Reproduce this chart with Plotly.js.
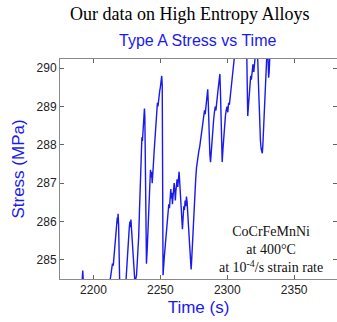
<!DOCTYPE html>
<html>
<head>
<meta charset="utf-8">
<script src="https://cdn.plot.ly/plotly-3.0.1.min.js"></script>
<style>html,body{margin:0;padding:0;background:#fff;}#chart{width:337px;height:322px;}</style>
</head>
<body>
<div id="chart"></div>
<script>
var time = [2185,2189,2191.5,2192,2192.4,2196,2202,2208,2212,2212.8,2213.5,2214.2,2214.8,2215.5,2216,2216.6,2217,2217.4,2217.8,2218.1,2218.4,2218.8,2219.2,2219.6,2221,2223,2224.3,2225,2225.6,2226.2,2226.7,2227.2,2227.6,2228,2228.5,2229,2229.5,2230,2230.6,2231,2232.2,2233,2233.8,2234.5,2235.2,2235.7,2236.2,2236.6,2237,2237.4,2237.8,2238.1,2238.4,2238.7,2239,2239.3,2239.6,2240.2,2240.8,2241.3,2241.8,2242.2,2242.6,2243,2243.5,2243.9,2244.4,2244.8,2245.3,2245.8,2246.3,2246.8,2247.3,2247.8,2248.2,2248.6,2249,2249.5,2250,2250.5,2251,2251.4,2251.7,2252,2252.4,2253,2253.5,2254,2254.6,2255.2,2255.8,2256.3,2256.8,2257.3,2257.8,2258.2,2258.6,2259,2259.4,2259.8,2260.3,2260.8,2261.2,2261.6,2262,2262.5,2263,2263.5,2264,2264.5,2265,2265.5,2266,2266.5,2267,2267.5,2268,2268.5,2269,2269.5,2270,2270.5,2271,2271.5,2272,2272.5,2273,2273.4,2274,2274.6,2275.2,2275.8,2276.4,2277,2277.6,2278.2,2278.8,2279.4,2280,2280.6,2281.2,2281.8,2282.4,2283,2283.5,2284,2284.5,2285,2285.4,2285.8,2286.2,2286.6,2287,2287.5,2288,2288.6,2289.2,2289.8,2290.4,2291,2291.5,2292,2292.5,2293,2293.5,2294,2294.5,2294.9,2295.3,2295.8,2296.2,2296.8,2297.4,2298,2298.6,2299.2,2299.8,2300.4,2301,2301.6,2302.2,2302.8,2303.4,2304,2304.6,2305.2,2306,2308,2311,2314,2314.6,2315,2315.3,2315.8,2316.4,2317,2317.5,2318,2318.6,2319.2,2319.8,2320.4,2321,2322,2322.8,2323.3,2323.8,2324.3,2324.8,2325.3,2325.8,2326.2,2326.6,2327,2327.5,2328,2328.5,2329,2329.5,2330,2330.5,2330.9,2331.3,2331.8,2332.3];
var stress = [284.30,284.38,284.42,284.72,284.45,284.35,284.28,284.33,284.40,284.55,284.78,284.90,284.85,285.15,285.30,285.55,285.70,285.85,286.10,285.95,286.20,285.90,285.20,284.40,284.30,284.35,284.45,284.95,285.30,285.60,285.80,286.00,285.85,286.05,285.80,285.60,285.30,284.90,284.55,284.40,284.60,285.00,285.60,286.40,287.30,287.90,288.20,288.10,288.40,288.30,288.70,288.95,288.75,288.00,286.60,285.40,284.90,285.30,285.80,286.20,286.60,287.00,287.35,287.15,287.30,287.00,287.20,287.50,287.80,288.10,288.40,288.70,288.85,289.10,289.00,289.20,289.15,289.40,289.50,289.65,289.80,289.55,288.00,284.60,284.80,285.10,285.30,285.50,285.80,286.00,286.25,286.45,286.35,286.70,286.85,286.60,286.75,286.45,286.70,286.85,287.00,286.80,286.55,286.80,287.00,287.10,286.90,287.15,287.30,287.00,286.60,286.30,285.90,285.80,286.10,286.40,286.30,286.55,286.40,286.65,286.50,286.30,285.90,285.60,285.20,284.90,284.75,285.00,285.50,285.90,286.30,286.70,287.10,287.40,287.60,287.75,287.85,287.95,288.10,288.30,288.50,288.65,288.80,288.90,288.80,289.00,289.15,289.30,289.45,289.10,288.50,288.00,287.75,287.55,287.85,288.20,288.45,288.65,288.85,289.00,288.90,289.15,289.25,289.40,289.55,289.65,289.85,289.40,288.60,287.90,287.55,287.90,288.30,288.60,288.75,288.90,289.00,288.85,289.10,289.05,289.30,289.45,289.65,289.85,290.05,290.25,290.50,290.70,290.80,290.60,290.30,289.40,288.75,289.00,289.30,289.60,289.80,289.70,289.95,290.10,289.90,290.15,290.35,290.40,290.20,289.60,288.90,288.40,288.10,287.90,287.85,287.78,288.00,288.40,288.90,289.30,289.60,289.90,290.30,290.50,290.20,289.75,289.90,290.30,290.60];
var xTicks = [2200, 2250, 2300, 2350];
var yTicks = [285, 286, 287, 288, 289, 290];

var trace = {x: time, y: stress, type: 'scatter', mode: 'lines',
  line: {color: '#1a1aee', width: 1.4}, hoverinfo: 'none'};

var axisCommon = {showgrid: false, zeroline: false, showline: true, linecolor: '#8a8a8a', linewidth: 1,
  mirror: 'ticks', ticks: 'inside', ticklen: 4, tickcolor: '#666',
  tickfont: {family: 'Liberation Sans, Arial, sans-serif', size: 12, color: '#222'}};

var layout = {
  width: 337, height: 322,
  margin: {l: 60, r: 0, t: 59, b: 43},
  paper_bgcolor: '#fff', plot_bgcolor: '#fff',
  showlegend: false,
  xaxis: Object.assign({}, axisCommon, {range: [2175, 2382], tickvals: xTicks,
    title: {text: 'Time (s)', standoff: 4, font: {family: 'Liberation Sans, Arial, sans-serif', size: 17, color: '#1a1aee'}}}),
  yaxis: Object.assign({}, axisCommon, {range: [284.5, 290.24], tickvals: yTicks,
    title: {text: 'Stress (MPa)', standoff: 7, font: {family: 'Liberation Sans, Arial, sans-serif', size: 17, color: '#1a1aee'}}}),
  annotations: [
    {xref: 'paper', yref: 'paper', x: 0.466, y: 1.2045, xanchor: 'center', yanchor: 'middle', showarrow: false,
     text: 'Our data on High Entropy Alloys', font: {family: 'Liberation Serif, Times New Roman, serif', size: 18, color: '#000'}},
    {xref: 'paper', yref: 'paper', x: 0.496, y: 1.086, xanchor: 'center', yanchor: 'middle', showarrow: false,
     text: 'Type A Stress vs Time', font: {family: 'Liberation Sans, Arial, sans-serif', size: 16, color: '#1a1aee'}},
    {xref: 'x', yref: 'y', x: 2333, y: 285.28, xanchor: 'center', yanchor: 'middle', showarrow: false, align: 'center',
     text: 'CoCrFeMnNi<br>at 400°C<br>at 10<sup>-4</sup>/s strain rate',
     font: {family: 'Liberation Serif, Times New Roman, serif', size: 14, color: '#111'}}
  ]
};
Plotly.newPlot('chart', [trace], layout, {staticPlot: true, displayModeBar: false});
</script>
</body>
</html>
